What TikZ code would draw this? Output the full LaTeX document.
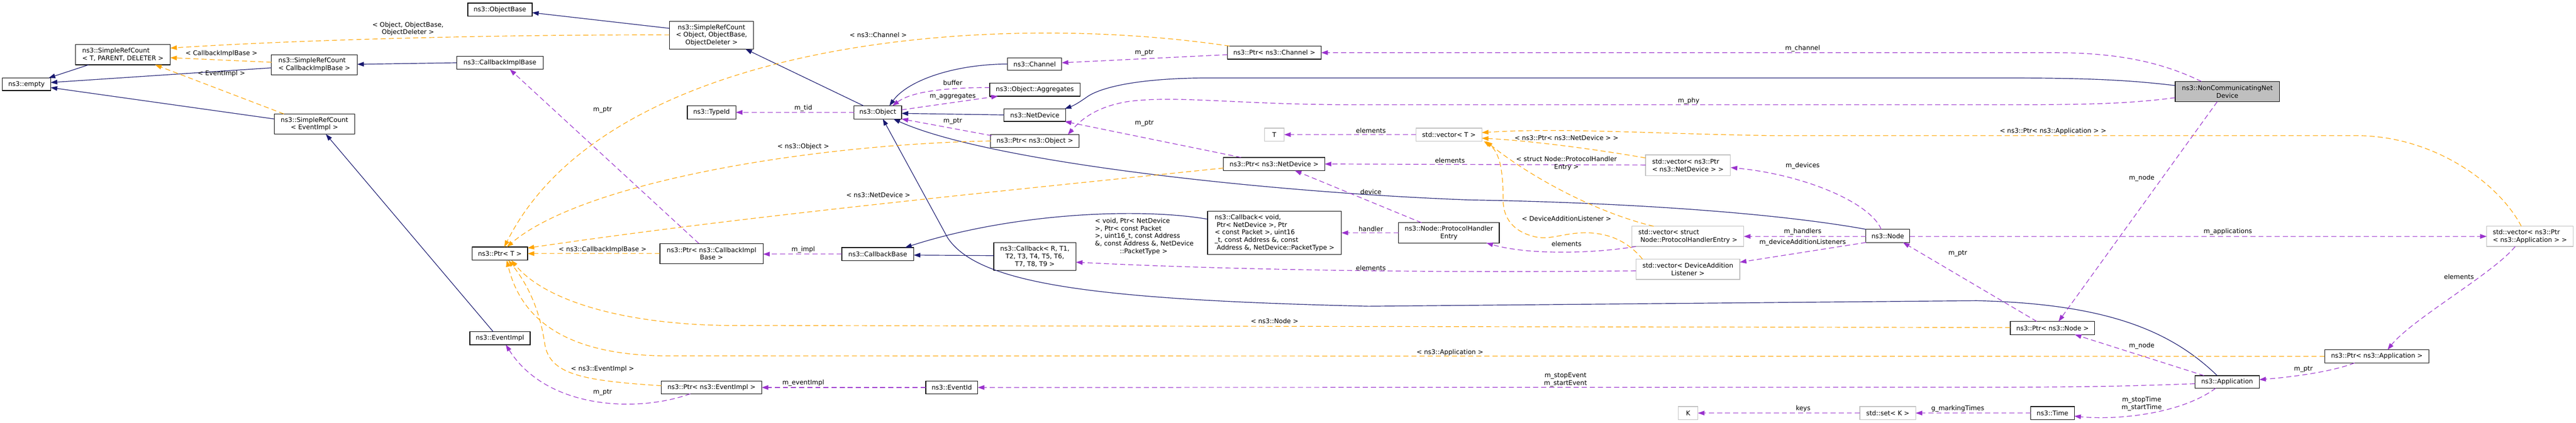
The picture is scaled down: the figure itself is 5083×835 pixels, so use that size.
\documentclass[tikz,border=0pt]{standalone}
\usepackage{fontspec}
\setmainfont{DejaVu Sans}
\usetikzlibrary{arrows.meta,calc}
\definecolor{navy}{HTML}{191970}
\definecolor{orchid}{HTML}{9A32CD}
\definecolor{orng}{HTML}{FFA500}
\definecolor{boxgray}{HTML}{BFBFBF}
\begin{document}
\begin{tikzpicture}[x=1pt,y=-1pt,
  font=\fontsize{12.7}{15}\selectfont,
  wh/.style 2 args={minimum width=#1pt,minimum height=#2pt},
  clsbox/.style={draw=black,line width=1.3pt,fill=white,inner sep=0pt,align=center},
  extbox/.style={clsbox,draw=boxgray},
  lbl/.style={inner sep=0pt,align=center,text=black},
  tip/.style={-{Triangle[length=13pt,width=9pt]}},
  inhedge/.style={draw=navy,line width=1.2pt,tip},
  usedge/.style={draw=orchid,line width=1.2pt,dash pattern=on 10pt off 6pt,tip},
  tmpledge/.style={draw=orng,line width=1.2pt,dash pattern=on 10pt off 6pt,tip}]
\useasboundingbox (0,0) rectangle (5083,835);
\fill[white] (0,0) rectangle (5083,835);

% ---------- class boxes ----------
\node[clsbox,wh={95.4}{25}] (empty) at (52.3,166.5) {ns3::empty};
\node[clsbox,wh={187}{40},align=left] (srcT) at (242.5,108) {ns3::SimpleRefCount\\< T, PARENT, DELETER >};
\node[clsbox,wh={169.5}{40},align=left] (srcCIB) at (620.25,128) {ns3::SimpleRefCount\\< CallbackImplBase >};
\node[clsbox,wh={159}{40}] (srcEI) at (620.5,245) {ns3::SimpleRefCount\\< EventImpl >};
\node[clsbox,wh={127}{26}] (objbase) at (986.5,19) {ns3::ObjectBase};
\node[clsbox,wh={166}{55}] (srcObj) at (1404,69.5) {ns3::SimpleRefCount\\< Object, ObjectBase,\\ObjectDeleter >};
\node[clsbox,wh={171}{26}] (cib) at (986.5,124) {ns3::CallbackImplBase};
\node[clsbox,wh={96}{26}] (typeid) at (1404,222) {ns3::TypeId};
\node[clsbox,wh={94}{26}] (object) at (1732,222) {ns3::Object};
\node[clsbox,wh={109.4}{26}] (ptrT) at (986.3,501) {ns3::Ptr< T >};
\node[clsbox,wh={203.6}{40}] (ptrCIB) at (1404,501) {ns3::Ptr< ns3::CallbackImpl\\Base >};
\node[clsbox,wh={142}{26}] (cbbase) at (1732,502) {ns3::CallbackBase};
\node[clsbox,wh={119}{26}] (eventimpl) at (986.5,668) {ns3::EventImpl};
\node[clsbox,wh={198}{25}] (ptrEI) at (1404,765.5) {ns3::Ptr< ns3::EventImpl >};
\node[clsbox,wh={107}{25}] (channel) at (2041.5,126.5) {ns3::Channel};
\node[clsbox,wh={178}{26}] (aggr) at (2042,177) {ns3::Object::Aggregates};
\node[clsbox,wh={122}{25}] (netdev) at (2042,227.5) {ns3::NetDevice};
\node[clsbox,wh={174.5}{25}] (ptrObj) at (2042,278.5) {ns3::Ptr< ns3::Object >};
\node[clsbox,wh={185}{26}] (ptrCh) at (2514.5,104) {ns3::Ptr< ns3::Channel >};
\node[extbox,wh={39}{26}] (T) at (2514.5,266) {T};
\node[clsbox,wh={200}{26}] (ptrND) at (2514,324) {ns3::Ptr< ns3::NetDevice >};
\node[clsbox,wh={162}{55}] (cbR) at (2042,506.5) {ns3::Callback< R, T1,\\T2, T3, T4, T5, T6,\\T7, T8, T9 >};
\node[clsbox,wh={264}{85},align=left] (cbVoid) at (2515,460) {ns3::Callback< void,\\\hspace*{4pt}Ptr< NetDevice >, Ptr\\< const Packet >, uint16\\\_t, const Address \&, const\\\hspace*{4pt}Address \&, NetDevice::PacketType >};
\node[clsbox,wh={102.5}{25}] (eventid) at (1878,765.5) {ns3::EventId};
\node[extbox,wh={130}{26}] (vecT) at (2859,266) {std::vector< T >};
\node[extbox,wh={167}{41},align=left] (vecND) at (3330.5,326.5) {std::vector< ns3::Ptr\\< ns3::NetDevice > >};
\node[clsbox,wh={198.5}{40}] (phe) at (2859,460) {ns3::Node::ProtocolHandler\\Entry};
\node[extbox,wh={221}{40},align=left] (vecPHE) at (3330.5,467) {std::vector< struct\\\hspace*{4pt}Node::ProtocolHandlerEntry >};
\node[extbox,wh={205}{40}] (vecDAL) at (3330.5,532) {std::vector< DeviceAddition\\Listener >};
\node[extbox,wh={38.5}{26}] (K) at (3331,816) {K};
\node[clsbox,wh={86.5}{26}] (nsnode) at (3725,466) {ns3::Node};
\node[clsbox,wh={166.5}{26}] (ptrNode) at (4050,648) {ns3::Ptr< ns3::Node >};
\node[clsbox,wh={127}{25}] (app) at (4394.5,754.5) {ns3::Application};
\node[extbox,wh={110}{26}] (setK) at (3725,816) {std::set< K >};
\node[clsbox,wh={86}{26}] (time) at (4050,816) {ns3::Time};
\node[clsbox,fill=boxgray,wh={206}{40}] (nc) at (4395,181) {ns3::NonCommunicatingNet\\Device};
\node[extbox,wh={170.4}{40},align=left] (vecApp) at (4992,467) {std::vector< ns3::Ptr\\< ns3::Application > >};
\node[clsbox,wh={206}{26}] (ptrApp) at (4690,704) {ns3::Ptr< ns3::Application >};

% ---------- inheritance ----------
\draw[inhedge] ($(srcT)+(-67.5,20)$) -- ($(empty)+(43.7,-12.5)$);
\draw[inhedge] ($(srcCIB)+(-84.75,6)$) -- ($(empty)+(47.7,-3.5)$);
\draw[inhedge] ($(srcEI)+(-79.5,-10)$) -- ($(empty)+(47.7,6.5)$);
\draw[inhedge] ($(cib)+(-85.5,0)$) -- ($(srcCIB)+(84.75,-1)$);
\draw[inhedge] ($(eventimpl)+(-13.5,-13)$) -- ($(srcEI)+(22.5,20)$);
\draw[inhedge] ($(srcObj)+(-83,-13.5)$) -- ($(objbase)+(63.5,6)$);
\draw[inhedge] ($(object)+(-28,-13)$) -- ($(srcObj)+(67,27.5)$);
\draw[inhedge] ($(channel)+(-53.5,0)$) .. controls (1880,127) and (1790,160) .. ($(object)+(23,-13)$);
\draw[inhedge] ($(netdev)+(-61,-0.5)$) -- ($(object)+(47,2)$);
\draw[inhedge] ($(nsnode)+(-43,-13)$) .. controls (3500,420) and (3200,400) .. (2900,395) .. controls (2500,380) and (1950,320) .. ($(object)+(31,13)$);
\draw[inhedge] ($(app)+(-19.5,-12.5)$) .. controls (4280,650) and (4150,600) .. (3900,594) -- (2700,605) .. controls (2150,592) and (1930,560) .. (1870,470) -- ($(object)+(10,13)$);
\draw[inhedge] ($(nc)+(-103,-12)$) .. controls (4200,158) and (4120,154) .. (3950,154) -- (2400,154) .. controls (2250,153) and (2175,172) .. (2147,190) .. controls (2130,202) and (2120,208) .. ($(netdev)+(59,-12.5)$);
\draw[inhedge] ($(cbR)+(-81,-1.5)$) -- ($(cbbase)+(71,2)$);
\draw[inhedge] ($(cbVoid)+(-132,-27)$) .. controls (2250,410) and (2000,420) .. ($(cbbase)+(54,-13)$);

% ---------- template instances ----------
\draw[tmpledge] ($(srcObj)+(-83,-0.5)$) .. controls (1000,68) and (600,78) .. ($(srcT)+(93.5,-13)$);
\draw[tmpledge] ($(srcCIB)+(-84.75,-5)$) -- ($(srcT)+(93.5,6)$);
\draw[tmpledge] ($(srcEI)+(-60.5,-20)$) -- ($(srcT)+(63.5,20)$);
\draw[tmpledge] ($(ptrCh)+(-88.5,-13)$) .. controls (1950,20) and (1200,80) .. ($(ptrT)+(8.7,-13)$);
\draw[tmpledge] ($(ptrObj)+(-87.25,0)$) .. controls (1600,285) and (1150,360) .. ($(ptrT)+(13.7,-13)$);
\draw[tmpledge] ($(ptrND)+(-100,8)$) .. controls (1900,385) and (1450,430) .. ($(ptrT)+(54.7,-11)$);
\draw[tmpledge] ($(ptrCIB)+(-101.8,0)$) -- ($(ptrT)+(54.7,0)$);
\draw[tmpledge] ($(ptrNode)+(-83.25,-1)$) -- (1450,643) .. controls (1250,643) and (1080,600) .. ($(ptrT)+(22.7,13)$);
\draw[tmpledge] ($(ptrApp)+(-103,0)$) -- (1320,703) .. controls (1130,703) and (1030,640) .. ($(ptrT)+(13.7,13)$);
\draw[tmpledge] ($(ptrEI)+(-99,-3.5)$) .. controls (1150,752) and (1085,740) .. (1075,680) .. controls (1065,610) and (1040,560) .. ($(ptrT)+(16.7,13)$);
\draw[tmpledge] ($(vecND)+(-83.5,-14.5)$) .. controls (3150,295) and (3020,278) .. ($(vecT)+(65,7)$);
\draw[tmpledge] ($(vecPHE)+(-67.5,-20)$) .. controls (3150,420) and (3020,350) .. ($(vecT)+(73,13)$);
\draw[tmpledge] ($(vecDAL)+(-89.5,-20)$) .. controls (3215,480) and (3180,462) .. (3136,460) .. controls (3090,458) and (3060,475) .. (3030,468) .. controls (2985,458) and (2966,430) .. (2966,395) .. controls (2966,340) and (2960,300) .. ($(vecT)+(69,13)$);
\draw[tmpledge] ($(vecApp)+(-17,-20)$) .. controls (4930,360) and (4800,268) .. (4650,268) -- (3500,268) .. controls (3250,264) and (3080,252) .. ($(vecT)+(65,-4)$);

% ---------- usage ----------
\draw[usedge] ($(object)+(-47,0)$) -- ($(typeid)+(48,0)$);
\draw[usedge] ($(ptrCIB)+(-25,-20)$) -- ($(cib)+(19.5,13)$);
\draw[usedge] ($(cbbase)+(-71,0)$) -- ($(ptrCIB)+(101.8,1)$);
\draw[usedge] ($(ptrEI)+(-42,12.5)$) .. controls (1260,815) and (1080,810) .. ($(eventimpl)+(11.5,13)$);
\draw[usedge] ($(eventid)+(-51.25,0)$) -- ($(ptrEI)+(99,0)$);
\draw[usedge] ($(ptrCh)+(-92.5,4)$) -- ($(channel)+(53.5,-2.5)$);
\draw[usedge] ($(object)+(47,-5)$) -- ($(aggr)+(-73,13)$);
\draw[usedge] ($(aggr)+(-89,-4)$) .. controls (1870,173) and (1800,180) .. ($(object)+(29,-13)$);
\draw[usedge] ($(ptrObj)+(-85,-10.5)$) -- ($(object)+(47,13)$);
\draw[usedge] ($(nc)+(-103,12)$) .. controls (4200,205) and (4120,207) .. (3950,207) -- (2700,207) .. controls (2450,208) and (2330,188) .. (2230,200) .. controls (2160,210) and (2130,240) .. ($(ptrObj)+(65,-12.5)$);
\draw[usedge] ($(nc)+(-51,-20)$) .. controls (4260,120) and (4170,104) .. (4050,104) -- ($(ptrCh)+(92.5,0)$);
\draw[usedge] ($(ptrND)+(-65,-13)$) -- ($(netdev)+(59,12.5)$);
\draw[usedge] ($(vecT)+(-65,0)$) -- ($(T)+(19.5,0)$);
\draw[usedge] ($(vecND)+(-83.5,-0.5)$) -- ($(ptrND)+(100,0)$);
\draw[usedge] ($(phe)+(-54,-20)$) -- ($(ptrND)+(41,13)$);
\draw[usedge] ($(phe)+(-99.25,0)$) -- ($(cbVoid)+(132,0)$);
\draw[usedge] ($(vecPHE)+(-102.5,20)$) .. controls (3150,500) and (3020,505) .. ($(phe)+(74,20)$);
\draw[usedge] ($(vecDAL)+(-102.5,3)$) .. controls (2800,540) and (2400,532) .. ($(cbR)+(81,11.5)$);
\draw[usedge] ($(nsnode)+(-13,-13)$) .. controls (3690,400) and (3560,345) .. ($(vecND)+(84.5,4.5)$);
\draw[usedge] ($(nsnode)+(-43.25,1)$) -- ($(vecPHE)+(110.5,0)$);
\draw[usedge] ($(nsnode)+(-43,13)$) -- ($(vecDAL)+(102.5,-14)$);
\draw[usedge] ($(nsnode)+(43.25,1)$) -- ($(vecApp)+(-85.2,0)$);
\draw[usedge] ($(vecApp)+(-29,20)$) .. controls (4920,540) and (4760,630) .. ($(ptrApp)+(21,-13)$);
\draw[usedge] ($(ptrApp)+(-44,13)$) .. controls (4600,735) and (4520,745) .. ($(app)+(63.5,-4.5)$);
\draw[usedge] ($(ptrNode)+(-31,-13)$) -- ($(nsnode)+(30,13)$);
\draw[usedge] ($(nc)+(-20,20)$) -- ($(ptrNode)+(12,-13)$);
\draw[usedge] ($(app)+(-45.5,-12.5)$) -- ($(ptrNode)+(44,13)$);
\draw[usedge] ($(app)+(-63.5,3.5)$) .. controls (4200,763) and (4100,765) .. (3900,765) -- ($(eventid)+(51.25,0)$);
\draw[usedge] ($(app)+(-22.5,12.5)$) .. controls (4300,820) and (4170,830) .. ($(time)+(43,6)$);
\draw[usedge] ($(time)+(-43,0)$) -- ($(setK)+(55,0)$);
\draw[usedge] ($(setK)+(-55,0)$) -- ($(K)+(19.25,0)$);

% ---------- edge labels ----------
\node[lbl] (l01) at (805,57) {< Object, ObjectBase,\\ObjectDeleter >};
\node[lbl] (l02) at (437,106) {< CallbackImplBase >};
\node[lbl] (l03) at (437,145) {< EventImpl >};
\node[lbl] (l04) at (1189,217) {m\_ptr};
\node[lbl] (l05) at (1585,214) {m\_tid};
\node[lbl] (l06) at (1733,69) {< ns3::Channel >};
\node[lbl] (l07) at (1585,290) {< ns3::Object >};
\node[lbl] (l08) at (1733,385) {< ns3::NetDevice >};
\node[lbl] (l09) at (1189,493) {< ns3::CallbackImplBase >};
\node[lbl] (l10) at (1585,493) {m\_impl};
\node[lbl] (l11) at (1189,729) {< ns3::EventImpl >};
\node[lbl] (l12) at (1189,775) {m\_ptr};
\node[lbl] (l13) at (1585,757) {m\_eventImpl};
\node[lbl] (l14) at (1880,164) {buffer};
\node[lbl] (l15) at (1880,191) {m\_aggregates};
\node[lbl] (l16) at (1880,239) {m\_ptr};
\node[lbl] (l17) at (2258,104) {m\_ptr};
\node[lbl] (l18) at (2258,244) {m\_ptr};
\node[lbl,align=left] (l19) at (2258,467) {< void, Ptr< NetDevice\\>, Ptr< const Packet\\>, uint16\_t, const Address\\\&, const Address \&, NetDevice\\\hspace*{49pt}::PacketType >};
\node[lbl] (l20) at (2515,634) {< ns3::Node >};
\node[lbl] (l21) at (3332,199) {m\_phy};
\node[lbl] (l22) at (3557,96) {m\_channel};
\node[lbl] (l23) at (2705,258) {elements};
\node[lbl] (l24) at (3091,272) {< ns3::Ptr< ns3::NetDevice > >};
\node[lbl] (l25) at (2861,317) {elements};
\node[lbl] (l26) at (3091,323) {< struct Node::ProtocolHandler\\Entry >};
\node[lbl] (l27) at (3557,328) {m\_devices};
\node[lbl] (l28) at (2705,379) {device};
\node[lbl] (l29) at (2705,452) {handler};
\node[lbl] (l30) at (3091,432) {< DeviceAdditionListener >};
\node[lbl] (l31) at (3091,482) {elements};
\node[lbl] (l32) at (3557,458) {m\_handlers};
\node[lbl] (l33) at (3557,479) {m\_deviceAdditionListeners};
\node[lbl] (l34) at (2705,529) {elements};
\node[lbl] (l35) at (2861,696) {< ns3::Application >};
\node[lbl] (l36) at (3089,750) {m\_stopEvent\\m\_startEvent};
\node[lbl] (l37) at (3558,807) {keys};
\node[lbl] (l38) at (4051,259) {< ns3::Ptr< ns3::Application > >};
\node[lbl] (l39) at (4226,352) {m\_node};
\node[lbl] (l40) at (3863,501) {m\_ptr};
\node[lbl] (l41) at (4226,683) {m\_node};
\node[lbl] (l42) at (4396,458) {m\_applications};
\node[lbl] (l43) at (3863,807) {g\_markingTimes};
\node[lbl] (l44) at (4226,798) {m\_stopTime\\m\_startTime};
\node[lbl] (l45) at (4852,547) {elements};
\node[lbl] (l46) at (4545,729) {m\_ptr};
\end{tikzpicture}
\end{document}
